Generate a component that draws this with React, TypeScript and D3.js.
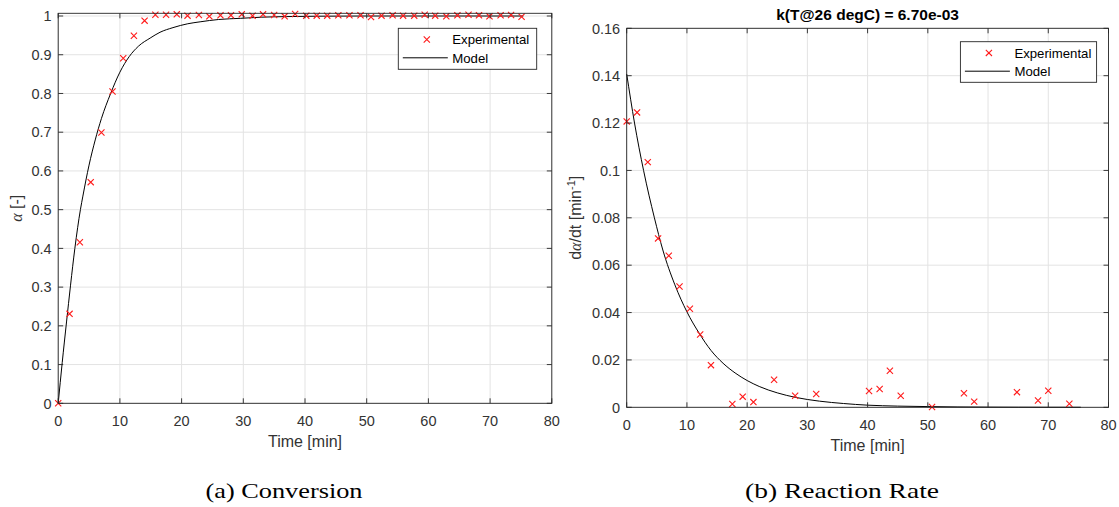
import React from "react";
import * as d3 from "d3";

// ---------- Data ----------
const convTime = [0, 1.84, 3.51, 5.27, 7.0, 8.8, 10.54, 12.27, 14.0, 15.75, 17.48, 19.22, 20.96, 22.8, 24.5, 26.3, 28.0, 29.75, 31.5, 33.2, 35.0, 36.7, 38.4, 40.2, 41.9, 43.6, 45.4, 47.2, 49.0, 50.7, 52.4, 54.2, 55.9, 57.7, 59.4, 61.1, 62.9, 64.7, 66.5, 68.2, 69.9, 71.7, 73.4, 75.1];
const convExp = [0, 0.231, 0.416, 0.571, 0.699, 0.805, 0.891, 0.949, 0.988, 1.0034, 1.0034, 1.0043, 1.0009, 1.0026, 0.9991, 1.0017, 1.0017, 1.0043, 1.0009, 1.0043, 1.0026, 0.9991, 1.0052, 1.0009, 1.0009, 1.0009, 1.0017, 1.0017, 1.0017, 0.9974, 1.0009, 1.0017, 1.0009, 1.0009, 1.0034, 1.0009, 0.9991, 1.0017, 1.0034, 1.0017, 0.9991, 1.0017, 1.0026, 0.9983];

const convModelTime = [0, 0.65, 1.35, 2.0, 2.7, 3.6, 4.0, 5.0, 6.0, 7.0, 8.5, 10, 11.5, 13, 14.9, 16.5, 18.6, 21, 23, 26, 29.5, 33, 37, 42, 50, 60, 75.4];
const convModel = [0, 0.105, 0.21, 0.305, 0.4, 0.5, 0.535, 0.615, 0.68, 0.735, 0.8, 0.855, 0.895, 0.922, 0.943, 0.958, 0.97, 0.98, 0.985, 0.991, 0.994, 0.997, 0.9985, 0.9995, 1.0, 1.0, 1.0];

const rateTime = [0, 1.72, 3.5, 5.21, 6.99, 8.77, 10.49, 12.2, 13.99, 17.54, 19.26, 21.04, 24.47, 27.97, 31.47, 40.24, 42.0, 43.7, 45.5, 50.7, 56.0, 57.7, 64.8, 68.3, 70.0, 73.5];
const rateExp = [0.1207, 0.1245, 0.1035, 0.0713, 0.064, 0.051, 0.0416, 0.0307, 0.0178, 0.0014, 0.0045, 0.0022, 0.0116, 0.0049, 0.0056, 0.0069, 0.0077, 0.0154, 0.0049, 0.0001, 0.0059, 0.0024, 0.0064, 0.0029, 0.007, 0.0015];

const rateModelTime = [0, 1.3, 2.8, 4.6, 6, 8, 10, 12, 14, 16, 18, 20, 22, 25, 28, 32, 36, 40, 45, 50, 55, 60, 65, 70, 75.4];
const rateModel = [0.1407, 0.12, 0.1, 0.08, 0.0664, 0.0517, 0.0403, 0.0314, 0.024, 0.0186, 0.0145, 0.0113, 0.0088, 0.0061, 0.0042, 0.0026, 0.0016, 0.0009, 0.0005, 0.0003, 0.00015, 0.00008, 0.00004, 0.00002, 0.00001];

const xTicks = [0, 10, 20, 30, 40, 50, 60, 70, 80];
const convYTicks = [0, 0.1, 0.2, 0.3, 0.4, 0.5, 0.6, 0.7, 0.8, 0.9, 1];
const rateYTicks = [0, 0.02, 0.04, 0.06, 0.08, 0.1, 0.12, 0.14, 0.16];

const legendLabels = ["Experimental", "Model"];
const rateTitle = "k(T@26 degC) = 6.70e-03";
const captions = ["(a) Conversion", "(b) Reaction Rate"];

// ---------- Styles ----------
const SANS = "'Liberation Sans', Arial, Helvetica, sans-serif";
const SERIF = "'Liberation Serif', 'Times New Roman', serif";
const AXIS = "#262626";
const TICKTXT = "#333333";
const GRID = "#e3e3e3";
const RED = "#ff1a1a";

type PanelProps = {
  x0: number; x1: number; yTop: number; yBot: number;
  yDomain: [number, number];
  yTicks: number[];
  yFmt: (v: number) => string;
  expT: number[]; expV: number[];
  modT: number[]; modV: number[];
  legend: { x: number; y: number; w: number; h: number };
  ylabel: React.ReactNode;
  ylabelX: number;
  title?: string;
};

function Marker({ cx, cy, s = 3.1 }: { cx: number; cy: number; s?: number }) {
  return (
    <path
      d={`M${cx - s},${cy - s}L${cx + s},${cy + s}M${cx - s},${cy + s}L${cx + s},${cy - s}`}
      stroke={RED}
      strokeWidth={1.1}
      fill="none"
    />
  );
}

function Panel(p: PanelProps) {
  const xs = d3.scaleLinear().domain([0, 80]).range([p.x0, p.x1]);
  const ys = d3.scaleLinear().domain(p.yDomain).range([p.yBot, p.yTop]);
  const line = d3
    .line<number>()
    .x((_, i) => xs(p.modT[i]))
    .y((d) => ys(d))
    .curve(d3.curveMonotoneX);
  const tl = 5;
  const cxMid = (p.x0 + p.x1) / 2;
  const cyMid = (p.yTop + p.yBot) / 2;
  return (
    <g>
      <rect x={p.x0} y={p.yTop} width={p.x1 - p.x0} height={p.yBot - p.yTop} fill="#fff" />
      {xTicks.map((t) => (
        <line key={"gx" + t} x1={xs(t)} x2={xs(t)} y1={p.yTop} y2={p.yBot} stroke={GRID} strokeWidth={1} />
      ))}
      {p.yTicks.map((t) => (
        <line key={"gy" + t} x1={p.x0} x2={p.x1} y1={ys(t)} y2={ys(t)} stroke={GRID} strokeWidth={1} />
      ))}
      <path d={line(p.modV) || ""} fill="none" stroke="#000" strokeWidth={1} />
      {p.expV.map((v, i) => (
        <Marker key={"m" + i} cx={xs(p.expT[i])} cy={ys(v)} />
      ))}
      <rect x={p.x0} y={p.yTop} width={p.x1 - p.x0} height={p.yBot - p.yTop} fill="none" stroke={AXIS} strokeWidth={0.9} />
      {xTicks.map((t) => (
        <g key={"tx" + t}>
          <line x1={xs(t)} x2={xs(t)} y1={p.yBot} y2={p.yBot - tl} stroke={AXIS} strokeWidth={0.9} />
          <line x1={xs(t)} x2={xs(t)} y1={p.yTop} y2={p.yTop + tl} stroke={AXIS} strokeWidth={0.9} />
          <text x={xs(t)} y={p.yBot + 23} textAnchor="middle" fontFamily={SANS} fontSize={14.5} fill={TICKTXT}>
            {t}
          </text>
        </g>
      ))}
      {p.yTicks.map((t) => (
        <g key={"ty" + t}>
          <line x1={p.x0} x2={p.x0 + tl} y1={ys(t)} y2={ys(t)} stroke={AXIS} strokeWidth={0.9} />
          <line x1={p.x1} x2={p.x1 - tl} y1={ys(t)} y2={ys(t)} stroke={AXIS} strokeWidth={0.9} />
          <text x={p.x0 - 6.5} y={ys(t) + 5.2} textAnchor="end" fontFamily={SANS} fontSize={14.5} fill={TICKTXT}>
            {p.yFmt(t)}
          </text>
        </g>
      ))}
      <text x={cxMid} y={p.yBot + 44} textAnchor="middle" fontFamily={SANS} fontSize={16} fill={TICKTXT}>
        Time [min]
      </text>
      <text
        transform={`translate(${p.ylabelX},${cyMid}) rotate(-90)`}
        textAnchor="middle"
        fontFamily={SANS}
        fontSize={16}
        fill={TICKTXT}
      >
        {p.ylabel}
      </text>
      {p.title && (
        <text x={cxMid} y={p.yTop - 8} textAnchor="middle" fontFamily={SANS} fontSize={15.5} fontWeight="bold" fill="#000">
          {p.title}
        </text>
      )}
      <g>
        <rect x={p.legend.x} y={p.legend.y} width={p.legend.w} height={p.legend.h} fill="#fff" stroke={AXIS} strokeWidth={0.9} />
        <Marker cx={p.legend.x + 28.5} cy={p.legend.y + 11.2} />
        <text x={p.legend.x + 54} y={p.legend.y + 15.8} fontFamily={SANS} fontSize={13.2} fill="#000">
          {legendLabels[0]}
        </text>
        <line x1={p.legend.x + 4.5} x2={p.legend.x + 49.5} y1={p.legend.y + 29.5} y2={p.legend.y + 29.5} stroke="#000" strokeWidth={1} />
        <text x={p.legend.x + 54} y={p.legend.y + 34.2} fontFamily={SANS} fontSize={13.2} fill="#000">
          {legendLabels[1]}
        </text>
      </g>
    </g>
  );
}

export default function App() {
  const fmtConv = (v: number) => (v === 0 ? "0" : v === 1 ? "1" : d3.format(".1f")(v));
  const fmtRate = (v: number) => (v === 0 ? "0" : String(+v.toFixed(2)));
  return (
    <svg
      width={1119}
      height={507}
      viewBox="0 0 1119 507"
      style={{ position: "absolute", left: 0, top: 0, background: "#fff" }}
    >
      <rect x={0} y={0} width={1119} height={507} fill="#fff" />
      <Panel
        x0={58.2}
        x1={551.8}
        yTop={13.3}
        yBot={403.3}
        yDomain={[0, 1.007]}
        yTicks={convYTicks}
        yFmt={fmtConv}
        expT={convTime}
        expV={convExp}
        modT={convModelTime}
        modV={convModel}
        legend={{ x: 398.3, y: 28.3, w: 138.4, h: 41 }}
        ylabelX={21.5}
        ylabel={
          <>
            <tspan fontFamily={SERIF} fontStyle="italic">α</tspan>
            <tspan> [-]</tspan>
          </>
        }
      />
      <Panel
        x0={626.7}
        x1={1108.5}
        yTop={28.3}
        yBot={407.3}
        yDomain={[0, 0.16]}
        yTicks={rateYTicks}
        yFmt={fmtRate}
        expT={rateTime}
        expV={rateExp}
        modT={rateModelTime}
        modV={rateModel}
        legend={{ x: 960.4, y: 41.7, w: 136.2, h: 40.6 }}
        ylabelX={581}
        title={rateTitle}
        ylabel={
          <>
            <tspan>d</tspan>
            <tspan fontFamily={SERIF} fontStyle="italic">α</tspan>
            <tspan>/dt [min</tspan>
            <tspan fontSize={11} dy={-6}>-1</tspan>
            <tspan dy={6}>]</tspan>
          </>
        }
      />
      <text x={284} y={498} textAnchor="middle" fontFamily={SERIF} fontSize={21} fill="#000" textLength={157} lengthAdjust="spacingAndGlyphs">
        {captions[0]}
      </text>
      <text x={842} y={498} textAnchor="middle" fontFamily={SERIF} fontSize={21} fill="#000" textLength={194} lengthAdjust="spacingAndGlyphs">
        {captions[1]}
      </text>
    </svg>
  );
}
